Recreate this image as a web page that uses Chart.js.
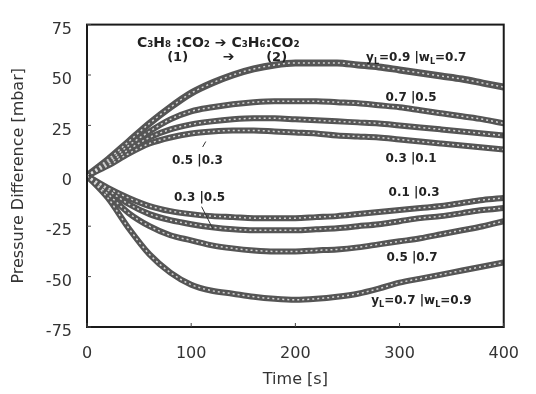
<!DOCTYPE html>
<html>
<head>
<meta charset="utf-8">
<script src="https://cdn.jsdelivr.net/npm/chart.js@4.4.1/dist/chart.umd.min.js"></script>
<style>
  html, body { margin: 0; padding: 0; background: #fff; }
  #wrap { width: 536px; height: 394px; }
</style>
</head>
<body>
<div id="wrap"><canvas id="c" width="536" height="394"></canvas></div>
<script>
// --- 1. DONNÉES ---

// Temps [s]
const times = [0, 20, 40, 60, 80, 100, 120, 140, 160, 180, 200, 220, 240, 260, 280, 300, 320, 340, 360, 380, 400];

// Différence de pression [mbar], une série par couple y|w
const y09w07 = [0, 8, 17, 26, 34, 41, 46, 50, 53, 55, 56, 56, 56, 55, 54, 52.5, 51, 49.5, 48, 46, 44];
const y07w05 = [0, 7, 15, 22, 28, 32, 34, 35.5, 36.5, 37, 37, 37, 36.5, 36, 35, 34, 32.5, 31, 29.5, 28, 26];
const y05w03 = [0, 6, 13, 19, 23, 25.5, 27, 28, 28.5, 28.5, 28, 27.5, 27, 26.5, 26, 25, 24, 23, 22, 21, 20];
const y03w01 = [0, 5, 11, 16, 19, 21, 22, 22.5, 22.5, 22, 21.5, 21, 20, 19.5, 19, 18, 17, 16, 15, 14, 13];
const y01w03 = [0, -6, -11, -15, -17.5, -19, -20, -20.5, -21, -21, -21, -20.5, -20, -19, -18, -17, -16, -15, -13.5, -12, -11];
const y03w05 = [0, -7, -14, -19, -22, -24, -25.5, -26.5, -27, -27, -27, -26.5, -26, -25, -24, -22.5, -21, -20, -18.5, -17, -16];
const y05w07 = [0, -9, -18.5, -25, -29.5, -32, -34.5, -36, -37, -37.5, -37.5, -37, -36.5, -35.5, -34, -32.5, -31, -29, -27, -25, -22.5];
const y07w09 = [0, -11, -26, -39, -48, -54, -57, -58.5, -60, -61, -61.5, -61, -60, -58.5, -56, -53, -51, -49, -47, -45, -43];

// Graduations
const xTicks = [0, 100, 200, 300, 400];
const yTicks = [-75, -50, -25, 0, 25, 50, 75];

// --- 2. ANNOTATIONS (texte placé en coordonnées de données) ---
// un segment qui commence par "_" est un indice
const notes = [
    {parts: ['C₃H₈ :CO₂ ➔ C₃H₆:CO₂'], t: 126, v: 65.5, size: 14},
    {parts: ['(1)'], t: 87, v: 58.8, size: 13},
    {parts: ['➔'], t: 136, v: 58.8, size: 14},
    {parts: ['(2)'], t: 182, v: 58.8, size: 13},
    {parts: ['y', '_L', '=0.9 |w', '_L', '=0.7'], t: 316, v: 58.3, size: 12},
    {parts: ['0.7 |0.5'], t: 311, v: 38.7, size: 12},
    {parts: ['0.5 |0.3'], t: 106, v: 7.6, size: 12},
    {parts: ['0.3 |0.1'], t: 311, v: 8.6, size: 12},
    {parts: ['0.3 |0.5'], t: 108, v: -11, size: 12},
    {parts: ['0.1 |0.3'], t: 314, v: -8.6, size: 12},
    {parts: ['0.5 |0.7'], t: 312, v: -40.6, size: 12},
    {parts: ['y', '_L', '=0.7 |w', '_L', '=0.9'], t: 321, v: -62, size: 12}
];
const pointers = [
    {from: [111, 14.3], to: [114, 17]},
    {from: [110, -15.3], to: [121, -26.5]}
];

// --- 3. CONSTRUCTION DES JEUX DE DONNÉES ---
const series = [y09w07, y07w05, y05w03, y03w01, y01w03, y03w05, y05w07, y07w09];
const datasets = [];
series.forEach((s, i) => {
    const pts = times.map((t, k) => ({x: t, y: s[k]}));
    // bande grise épaisse (les symboles serrés de l'original)
    datasets.push({
        data: pts,
        borderColor: '#555',
        borderWidth: i === 0 ? 7 : 6,
        pointRadius: 0,
        cubicInterpolationMode: 'monotone',
        order: 2
    });
    // pointillé clair par-dessus pour imiter les symboles creux
    datasets.push({
        data: pts,
        borderColor: 'rgba(225,225,225,0.9)',
        borderWidth: 1.5,
        borderDash: [2, 3],
        pointRadius: 0,
        cubicInterpolationMode: 'monotone',
        order: 1
    });
});

function drawNote(ctx, n, cx, cy) {
    const main = 'bold ' + n.size + 'px "DejaVu Sans"';
    const small = 'bold 8px "DejaVu Sans"';
    let w = 0;
    n.parts.forEach(p => {
        ctx.font = p[0] === '_' ? small : main;
        w += ctx.measureText(p[0] === '_' ? p.slice(1) : p).width;
    });
    let px = cx - w / 2;
    ctx.textBaseline = 'middle';
    ctx.textAlign = 'left';
    n.parts.forEach(p => {
        const sub = p[0] === '_';
        const txt = sub ? p.slice(1) : p;
        ctx.font = sub ? small : main;
        ctx.fillText(txt, px, sub ? cy + 4 : cy);
        px += ctx.measureText(txt).width;
    });
}

const decor = {
    id: 'decor',
    afterDatasetsDraw(chart) {
        const {ctx, chartArea: a, scales: {x, y}} = chart;
        ctx.save();
        // cadre
        ctx.strokeStyle = '#1a1a1a';
        ctx.lineWidth = 2;
        ctx.strokeRect(a.left, a.top, a.right - a.left, a.bottom - a.top);
        // petites graduations vers l'intérieur
        ctx.lineWidth = 1;
        ctx.strokeStyle = '#444';
        ctx.beginPath();
        yTicks.forEach(v => {
            const py = y.getPixelForValue(v);
            ctx.moveTo(a.left, py); ctx.lineTo(a.left + 4, py);
        });
        xTicks.forEach(v => {
            const px = x.getPixelForValue(v);
            ctx.moveTo(px, a.bottom); ctx.lineTo(px, a.bottom - 4);
        });
        ctx.stroke();
        // flèches de repère
        ctx.strokeStyle = '#333';
        pointers.forEach(p => {
            ctx.beginPath();
            ctx.moveTo(x.getPixelForValue(p.from[0]), y.getPixelForValue(p.from[1]));
            ctx.lineTo(x.getPixelForValue(p.to[0]), y.getPixelForValue(p.to[1]));
            ctx.stroke();
        });
        // textes
        ctx.fillStyle = '#222';
        notes.forEach(n => drawNote(ctx, n, x.getPixelForValue(n.t), y.getPixelForValue(n.v)));
        ctx.restore();
    }
};

// --- 4. GRAPHIQUE ---
new Chart(document.getElementById('c'), {
    type: 'line',
    data: {datasets: datasets},
    plugins: [decor],
    options: {
        responsive: false,
        devicePixelRatio: 1,
        animation: false,
        layout: {padding: {top: 13, right: 19, bottom: 0, left: 0}},
        plugins: {legend: {display: false}, tooltip: {enabled: false}},
        scales: {
            x: {
                type: 'linear',
                min: 0, max: 400,
                afterBuildTicks: s => { s.ticks = xTicks.map(v => ({value: v})); },
                afterFit: s => { s.height = 67; },
                grid: {display: false, drawTicks: false},
                border: {display: false},
                ticks: {color: '#333', padding: 17, font: {family: 'DejaVu Sans', size: 16}},
                title: {display: true, text: 'Time [s]', color: '#333',
                        font: {family: 'DejaVu Sans', size: 16}, padding: {top: 0, bottom: 5}}
            },
            y: {
                min: -75, max: 75,
                afterBuildTicks: s => { s.ticks = yTicks.map(v => ({value: v})); },
                afterFit: s => { s.width = 87; },
                grid: {display: false, drawTicks: false},
                border: {display: false},
                ticks: {color: '#333', padding: 15, labelOffset: 5, font: {family: 'DejaVu Sans', size: 16}},
                title: {display: true, text: 'Pressure Difference [mbar]', color: '#333',
                        font: {family: 'DejaVu Sans', size: 16}, padding: {top: 9, bottom: 0}}
            }
        }
    }
});
</script>
</body>
</html>
